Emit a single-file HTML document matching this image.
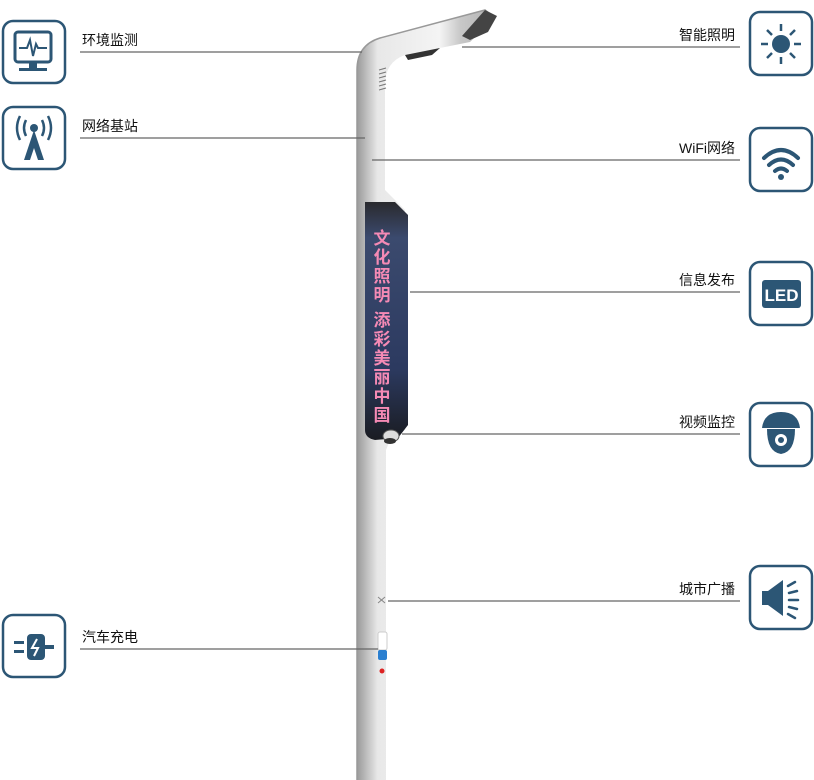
<!DOCTYPE html><html><head><meta charset="utf-8"><style>
body{margin:0;background:#fff;width:814px;height:780px;overflow:hidden;font-family:"Liberation Sans","Noto Sans CJK SC",sans-serif}
svg{display:block}
</style></head><body>
<svg width="814" height="780" viewBox="0 0 814 780" xmlns="http://www.w3.org/2000/svg">
<defs>
<linearGradient id="pg" x1="0" x2="1"><stop offset="0" stop-color="#9a9a9a"/><stop offset="0.15" stop-color="#e8e8e8"/><stop offset="0.6" stop-color="#f4f4f4"/><stop offset="0.75" stop-color="#c8c8c8"/><stop offset="1" stop-color="#b0b0b0"/></linearGradient>
<linearGradient id="dg" x1="0" y1="0" x2="0" y2="1"><stop offset="0" stop-color="#2a2a2e"/><stop offset="0.15" stop-color="#3b4a6e"/><stop offset="0.7" stop-color="#2c3a60"/><stop offset="1" stop-color="#1a1c22"/></linearGradient>
</defs>
<path d="M357,780 L357,70 Q357,45 380,38 L485,10 L495,18 L470,42 L455,45 L405,55 Q385,62 385,85 L385,190 L405,210 L405,430 L390,440 L386,450 L386,780 Z" fill="url(#pg)"/>
<path d="M357,780 L357,70 Q357,45 380,38 L485,10 L495,18" fill="none" stroke="#999" stroke-width="1.5"/>
<path d="M485,10 L497,16 L488,32 L470,40 L462,36 Z" fill="#444"/>
<path d="M405,55 L440,48 L432,55 L408,60 Z" fill="#333"/>
<g stroke="#777" stroke-width="1"><line x1="379" y1="70" x2="386" y2="68"/><line x1="379" y1="74" x2="386" y2="72"/><line x1="379" y1="78" x2="386" y2="76"/><line x1="379" y1="82" x2="386" y2="80"/><line x1="379" y1="86" x2="386" y2="84"/><line x1="379" y1="90" x2="386" y2="88"/></g>
<path d="M365,202 L395,202 L408,215 L408,425 L398,438 L375,440 Q365,438 365,430 Z" fill="url(#dg)"/>
<g font-family="'Noto Sans CJK SC',sans-serif" font-size="17" font-weight="bold" fill="#f58ab5" text-anchor="middle">
<text x="382" y="244">文</text><text x="382" y="263">化</text><text x="382" y="282">照</text><text x="382" y="301">明</text>
<text x="382" y="326">添</text><text x="382" y="345">彩</text><text x="382" y="364">美</text><text x="382" y="383">丽</text><text x="382" y="402">中</text><text x="382" y="421">国</text></g>
<ellipse cx="391" cy="436" rx="8" ry="6" fill="#ddd" stroke="#555"/>
<ellipse cx="390" cy="441" rx="6" ry="3" fill="#333"/>
<rect x="378" y="632" width="9" height="18" rx="2" fill="#fff" stroke="#ccc"/>
<rect x="378" y="650" width="9" height="10" rx="2" fill="#2a7fd0"/>
<circle cx="382" cy="671" r="2.5" fill="#d22"/>
<g stroke="#888" stroke-width="1"><line x1="378" y1="597" x2="385" y2="603"/><line x1="378" y1="603" x2="385" y2="597"/></g>
<g stroke="#666" stroke-width="1.3">
<line x1="80" y1="52" x2="362" y2="52"/><line x1="80" y1="138" x2="365" y2="138"/><line x1="80" y1="649" x2="378" y2="649"/>
<line x1="462" y1="47" x2="740" y2="47"/><line x1="372" y1="160" x2="740" y2="160"/><line x1="410" y1="292" x2="740" y2="292"/>
<line x1="402" y1="434" x2="740" y2="434"/><line x1="388" y1="601" x2="740" y2="601"/></g>
<g font-size="14" fill="#111" font-family="'Liberation Sans','Noto Sans CJK SC',sans-serif">
<text x="82" y="45">环境监测</text><text x="82" y="131">网络基站</text><text x="82" y="642">汽车充电</text>
<g text-anchor="end"><text x="735" y="40">智能照明</text><text x="735" y="153">WiFi网络</text><text x="735" y="285">信息发布</text><text x="735" y="427">视频监控</text><text x="735" y="594">城市广播</text></g></g>
<g fill="none" stroke="#2c5675" stroke-width="2.5">
<rect x="3" y="21" width="62" height="62" rx="10"/><rect x="3" y="107" width="62" height="62" rx="10"/><rect x="3" y="615" width="62" height="62" rx="10"/>
<rect x="750" y="12" width="62" height="63" rx="10"/><rect x="750" y="128" width="62" height="63" rx="10"/><rect x="750" y="262" width="62" height="63" rx="10"/><rect x="750" y="403" width="62" height="63" rx="10"/><rect x="750" y="566" width="62" height="63" rx="10"/>
</g>
<g fill="#2c5675" stroke="#2c5675">
<rect x="15" y="32" width="36" height="30" rx="3" fill="none" stroke-width="3"/><path d="M19,48 L27,48 L30,40 L33,56 L36,44 L38,48 L47,48" fill="none" stroke-width="2"/>
<rect x="29" y="62" width="8" height="6" stroke="none"/><rect x="19" y="68" width="28" height="3" stroke="none"/>
<circle cx="34" cy="128" r="4" stroke="none"/><path d="M34,130 L24,160 L30,160 L34,148 L38,160 L44,160 Z" stroke="none"/>
<g fill="none" stroke-width="2.5"><path d="M26,120 Q22,128 26,136"/><path d="M42,120 Q46,128 42,136"/><path d="M20,116 Q14,128 20,140"/><path d="M48,116 Q54,128 48,140"/></g>
<rect x="14" y="641" width="10" height="3" stroke="none"/><rect x="14" y="650" width="10" height="3" stroke="none"/><rect x="27" y="634" width="18" height="26" rx="4" stroke="none"/><rect x="45" y="645" width="9" height="4" stroke="none"/><path d="M37,639 L32,648 L38,648 L34,656" fill="none" stroke="#fff" stroke-width="2"/>
<circle cx="781" cy="44" r="9" stroke="none"/>
<g stroke-width="2.5"><line x1="781" y1="24" x2="781" y2="31"/><line x1="781" y1="57" x2="781" y2="64"/><line x1="761" y1="44" x2="768" y2="44"/><line x1="794" y1="44" x2="801" y2="44"/><line x1="767" y1="30" x2="772" y2="35"/><line x1="790" y1="53" x2="795" y2="58"/><line x1="795" y1="30" x2="790" y2="35"/><line x1="772" y1="53" x2="767" y2="58"/></g>
<g fill="none" stroke-width="4" stroke-linecap="round"><path d="M764,158 Q781,142 798,158"/><path d="M769,165 Q781,154 793,165"/><path d="M775,171 Q781,166 787,171"/></g><circle cx="781" cy="177" r="3" stroke="none"/>
<rect x="762" y="280" width="39" height="28" rx="3" stroke="none"/><text x="781.5" y="301" font-size="17" font-weight="bold" fill="#fff" stroke="none" text-anchor="middle" font-family="'Liberation Sans Narrow','Liberation Sans',sans-serif">LED</text>
<path d="M762,428 Q764,412 781,412 Q798,412 800,428 Z" stroke="none"/><path d="M767,429 L795,429 Q795,452 781,454 Q767,452 767,429 Z" stroke="none"/><circle cx="781" cy="440" r="6" fill="#fff" stroke="none"/><circle cx="781" cy="440" r="3" stroke="none"/>
<rect x="762" y="591" width="6" height="14" stroke="none"/><path d="M768,591 L783,580 L783,616 L768,605 Z" stroke="none"/>
<g stroke-width="2.5" stroke-linecap="round"><line x1="788" y1="586" x2="795" y2="582"/><line x1="789" y1="593" x2="797" y2="591"/><line x1="789" y1="600" x2="798" y2="600"/><line x1="789" y1="607" x2="797" y2="609"/><line x1="788" y1="614" x2="795" y2="618"/></g>
</g>
</svg>
</body></html>
